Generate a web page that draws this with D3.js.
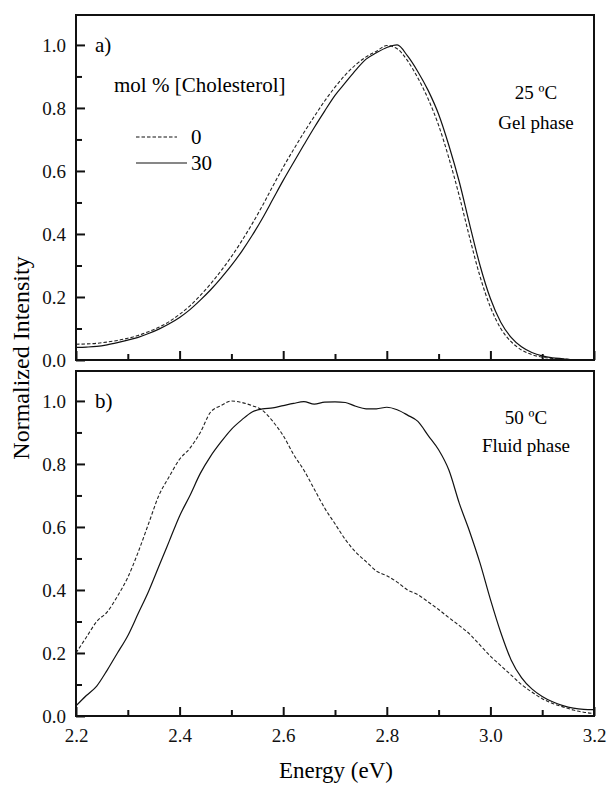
<!DOCTYPE html>
<html>
<head>
<meta charset="utf-8">
<script src="https://cdn.jsdelivr.net/npm/d3@7"></script>
</head>
<body style="margin:0">
<svg id="chart" width="609" height="787"></svg>
<script>
// Photon energy grid (eV)
const energy = [
  2.20, 2.22, 2.24, 2.26, 2.28, 2.30, 2.32, 2.34, 2.36, 2.38,
  2.40, 2.42, 2.44, 2.46, 2.48, 2.50, 2.52, 2.54, 2.56, 2.58,
  2.60, 2.62, 2.64, 2.66, 2.68, 2.70, 2.72, 2.74, 2.76, 2.78,
  2.80, 2.82, 2.84, 2.86, 2.88, 2.90, 2.92, 2.94, 2.96, 2.98,
  3.00, 3.02, 3.04, 3.06, 3.08, 3.10, 3.12, 3.14, 3.16, 3.18, 3.20
];

// a) 25 ºC, gel phase — 0 mol % cholesterol
const gelChol0 = [
  0.050, 0.051, 0.053, 0.057, 0.062, 0.069, 0.078, 0.090, 0.104, 0.122,
  0.145, 0.172, 0.205, 0.242, 0.283, 0.328, 0.378, 0.432, 0.490, 0.552,
  0.612, 0.668, 0.722, 0.773, 0.822, 0.866, 0.905, 0.937, 0.962, 0.980,
  0.998, 0.988, 0.950, 0.895, 0.828, 0.745, 0.640, 0.520, 0.388, 0.265,
  0.168, 0.100, 0.058, 0.032, 0.017, 0.009, 0.005, 0.003, 0.001, 0.000, 0.000
];

// a) 25 ºC, gel phase — 30 mol % cholesterol
const gelChol30 = [
  0.040, 0.041, 0.043, 0.048, 0.055, 0.063, 0.072, 0.084, 0.098, 0.115,
  0.135, 0.160, 0.190, 0.223, 0.260, 0.300, 0.345, 0.395, 0.450, 0.510,
  0.570, 0.627, 0.683, 0.738, 0.790, 0.840, 0.880, 0.920, 0.955, 0.975,
  0.992, 1.000, 0.965, 0.915, 0.855, 0.780, 0.680, 0.565, 0.430, 0.300,
  0.195, 0.120, 0.072, 0.042, 0.024, 0.013, 0.007, 0.004, 0.001, 0.000, 0.000
];

// b) 50 ºC, fluid phase — 0 mol % cholesterol
const fluidChol0 = [
  0.200, 0.250, 0.300, 0.330, 0.380, 0.440, 0.520, 0.610, 0.700, 0.760,
  0.815, 0.850, 0.900, 0.965, 0.985, 1.000, 0.995, 0.985, 0.970, 0.935,
  0.890, 0.830, 0.780, 0.720, 0.660, 0.610, 0.560, 0.520, 0.490, 0.460,
  0.445, 0.425, 0.400, 0.385, 0.362, 0.338, 0.312, 0.287, 0.260, 0.225,
  0.190, 0.160, 0.130, 0.100, 0.076, 0.055, 0.040, 0.029, 0.019, 0.012, 0.008
];

// b) 50 ºC, fluid phase — 30 mol % cholesterol
const fluidChol30 = [
  0.032, 0.065, 0.095, 0.145, 0.200, 0.255, 0.325, 0.395, 0.475, 0.555,
  0.635, 0.700, 0.770, 0.825, 0.870, 0.910, 0.940, 0.965, 0.975, 0.978,
  0.985, 0.992, 0.998, 0.990, 0.996, 0.997, 0.995, 0.983, 0.975, 0.975,
  0.980, 0.972, 0.955, 0.935, 0.890, 0.845, 0.780, 0.675, 0.585, 0.485,
  0.370, 0.265, 0.178, 0.122, 0.086, 0.062, 0.045, 0.033, 0.025, 0.021, 0.020
];

const yMajorTicks = [0.0, 0.2, 0.4, 0.6, 0.8, 1.0];
const yMinorTicks = [0.1, 0.3, 0.5, 0.7, 0.9];
const xMajorTicks = [2.2, 2.4, 2.6, 2.8, 3.0, 3.2];
const xMinorTicks = [2.3, 2.5, 2.7, 2.9, 3.1];

const legendLabels = ["0", "30"];

const FONT = "'Liberation Serif', 'Noto Serif CJK JP', monospace";

const svg = d3.select("#chart");

const left = 76, right = 594;
const panels = [
  { id: "a", top: 15, bottom: 360, dashed: gelChol0, solid: gelChol30,
    tag: "a)", temp: "25 ºC", phase: "Gel phase", tx: 536, ty1: 99, ty2: 129, xLabels: false },
  { id: "b", top: 371, bottom: 716, dashed: fluidChol0, solid: fluidChol30,
    tag: "b)", temp: "50 ºC", phase: "Fluid phase", tx: 526, ty1: 424, ty2: 452, xLabels: true }
];

const x = d3.scaleLinear().domain([2.2, 3.2]).range([left, right]);

function label(sel, size) {
  return sel.attr("font-size", size).attr("font-family", FONT);
}

panels.forEach(p => {
  const y = d3.scaleLinear().domain([0, 1.095]).range([p.bottom, p.top]);
  const g = svg.append("g");

  g.append("clipPath").attr("id", "clip-" + p.id)
    .append("rect")
    .attr("x", left).attr("y", p.top)
    .attr("width", right - left).attr("height", p.bottom - p.top);

  const line = d3.line()
    .x((d, i) => x(energy[i]))
    .y(d => y(d))
    .curve(d3.curveMonotoneX);

  const curves = g.append("g").attr("clip-path", `url(#clip-${p.id})`);
  curves.append("path")
    .attr("d", line(p.dashed))
    .attr("fill", "none").attr("stroke", "#222")
    .attr("stroke-width", 1.1)
    .attr("stroke-dasharray", "3.5,2");
  curves.append("path")
    .attr("d", line(p.solid))
    .attr("fill", "none").attr("stroke", "#111")
    .attr("stroke-width", 1.2);

  // y axis, major and minor ticks pointing inward
  const yAxis = g.append("g").attr("transform", `translate(${left},0)`)
    .call(d3.axisLeft(y).tickValues(yMajorTicks).tickSize(-9).tickPadding(10)
      .tickFormat(d3.format(".1f")));
  const yMinor = g.append("g").attr("transform", `translate(${left},0)`)
    .call(d3.axisLeft(y).tickValues(yMinorTicks).tickSize(-6).tickFormat(""));

  // x axis along the bottom of each panel
  const xAxis = g.append("g").attr("transform", `translate(0,${p.bottom})`)
    .call(d3.axisBottom(x).tickValues(xMajorTicks).tickSize(-9).tickPadding(13)
      .tickFormat(p.xLabels ? d3.format(".1f") : ""));
  const xMinor = g.append("g").attr("transform", `translate(0,${p.bottom})`)
    .call(d3.axisBottom(x).tickValues(xMinorTicks).tickSize(-6).tickFormat(""));

  [yAxis, yMinor, xAxis, xMinor].forEach(a => {
    a.attr("font-family", null).attr("font-size", null);
    a.select(".domain").remove();
    a.selectAll(".tick line").attr("stroke", "#111").attr("stroke-width", 2);
    label(a.selectAll(".tick text"), 19).attr("fill", "#111");
  });
  yAxis.selectAll(".tick text").attr("dy", "0.34em");

  // panel frame
  g.append("rect")
    .attr("x", left).attr("y", p.top)
    .attr("width", right - left).attr("height", p.bottom - p.top)
    .attr("fill", "none").attr("stroke", "#111").attr("stroke-width", 2);

  label(g.append("text").attr("x", 95).attr("y", y(1.0) + 7), 21).text(p.tag);
  label(g.append("text").attr("x", p.tx).attr("y", p.ty1).attr("text-anchor", "middle"), 19)
    .text(p.temp);
  label(g.append("text").attr("x", p.tx).attr("y", p.ty2).attr("text-anchor", "middle"), 19)
    .text(p.phase);

  if (p.id === "a") {
    label(g.append("text").attr("x", 114).attr("y", 92), 21).text("mol % [Cholesterol]");
    const lg = g.append("g");
    const rows = [
      { dash: "3.5,2", x2: 177, y: 137 },
      { dash: null, x2: 187, y: 163 }
    ];
    rows.forEach((r, i) => {
      lg.append("line")
        .attr("x1", 136).attr("x2", r.x2).attr("y1", r.y).attr("y2", r.y)
        .attr("stroke", "#111").attr("stroke-width", 1.2)
        .attr("stroke-dasharray", r.dash);
      label(lg.append("text").attr("x", 191).attr("y", r.y + 7), 21).text(legendLabels[i]);
    });
  }
});

// shared axis titles
label(svg.append("text")
  .attr("transform", "translate(29,358) rotate(-90)")
  .attr("text-anchor", "middle"), 24)
  .text("Normalized Intensity");

label(svg.append("text")
  .attr("x", 336).attr("y", 778)
  .attr("text-anchor", "middle"), 23)
  .text("Energy (eV)");
</script>
</body>
</html>
